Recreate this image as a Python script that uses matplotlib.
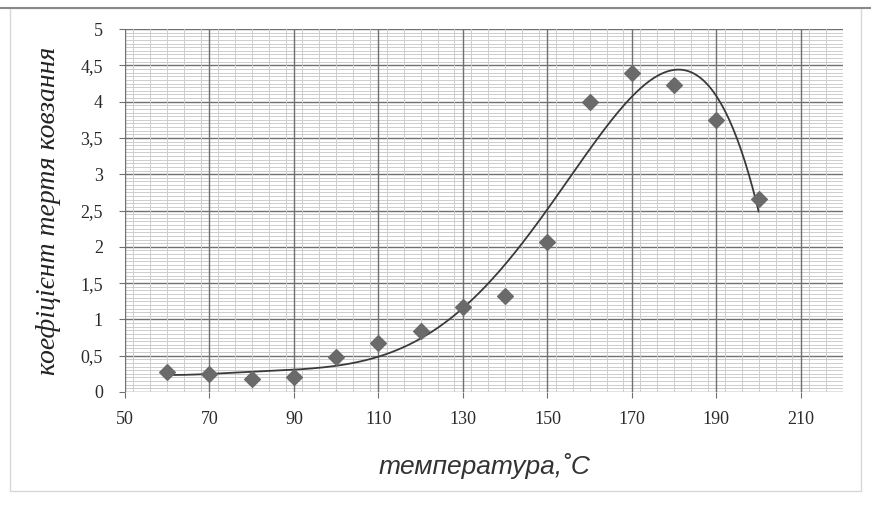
import numpy as np
import matplotlib.pyplot as plt
from matplotlib.ticker import MultipleLocator, FuncFormatter

# дані з графіка
temperature = [60, 70, 80, 90, 100, 110, 120, 130, 140, 150, 160, 170, 180, 190, 200]
friction = [0.27, 0.25, 0.18, 0.20, 0.48, 0.68, 0.84, 1.17, 1.32, 2.07, 4.00, 4.40, 4.23, 3.75, 2.66]
poly_order = 5

x_ticks = [50, 70, 90, 110, 130, 150, 170, 190, 210]
y_ticks = [0, 0.5, 1, 1.5, 2, 2.5, 3, 3.5, 4, 4.5, 5]

fig = plt.figure(figsize=(8.71, 5.09), dpi=100)
ax = fig.add_axes([0.1435, 0.2299, 0.8245, 0.713])

# поліноміальна лінія тренду (як в Excel)
coef = np.polyfit(temperature, friction, poly_order)
xs = np.linspace(min(temperature), max(temperature), 300)
ax.plot(xs, np.polyval(coef, xs), color='#3a3a3a', lw=1.3, zorder=3)

ax.scatter(temperature, friction, marker='D', s=64, color='#6a6a6a', zorder=4)

ax.set_xlim(50, 220)
ax.set_ylim(0, 5)
ax.set_xticks(x_ticks)
ax.set_yticks(y_ticks)
ax.xaxis.set_minor_locator(MultipleLocator(4))
ax.yaxis.set_minor_locator(MultipleLocator(0.05))
ax.yaxis.set_major_formatter(FuncFormatter(lambda v, p: f'{v:g}'.replace('.', ',')))

ax.grid(which='major', color='#707070', lw=1.0)
ax.grid(which='minor', color='#cdcdcd', lw=0.7)
ax.set_axisbelow(True)
ax.xaxis.set_zorder(0.7)  # вертикальні лінії поверх горизонтальних допоміжних
for s in ax.spines.values():
    s.set_visible(False)

ax.tick_params(which='minor', length=0)
ax.tick_params(which='major', length=4, color='#707070', labelsize=13)
for lab in ax.get_xticklabels() + ax.get_yticklabels():
    lab.set_family('Liberation Serif')
    lab.set_color('#2a2a2a')
ax.tick_params(axis='x', pad=10)
ax.tick_params(axis='y', pad=12)

ax.set_xlabel('температура,˚С', fontsize=19, style='italic', family='Liberation Sans',
              color='#333333', labelpad=18)
ax.set_ylabel('коефіцієнт тертя ковзання', fontsize=20, style='italic',
              family='Liberation Serif', color='#222222', labelpad=14)

# рамка області діаграми
fig.add_artist(plt.Line2D([0, 1], [0.985, 0.985], color='#888888', lw=1.5))
fig.add_artist(plt.Rectangle((0.012, 0.035), 0.976, 0.95, fill=False,
                             edgecolor='#d8d8d8', lw=1))

fig.savefig('out.png', dpi=100)
